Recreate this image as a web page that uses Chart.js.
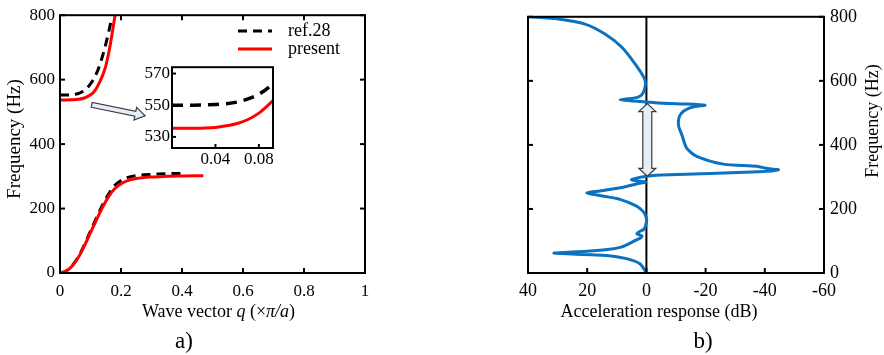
<!DOCTYPE html>
<html>
<head>
<meta charset="utf-8">
<script src="https://cdn.jsdelivr.net/npm/chart.js@4.4.0/dist/chart.umd.min.js"></script>
<style>
  body { margin: 0; background: #fff; width: 884px; height: 355px; overflow: hidden; position: relative; }
  canvas { position: absolute; }
</style>
</head>
<body>
<canvas id="dispersion" style="left:0;top:0;width:442px;height:355px"></canvas>
<canvas id="inset" style="left:115px;top:55px;width:165px;height:120px"></canvas>
<canvas id="response" style="left:442px;top:0;width:442px;height:355px"></canvas>
<script>
// ---- panel a) dispersion curves ----
const qRefLow = [0, 0.02, 0.04, 0.06, 0.08, 0.1, 0.12, 0.14, 0.16, 0.18, 0.2, 0.22, 0.25, 0.3, 0.35, 0.4];
const fRefLow = [0, 6, 23, 50, 87, 130, 172, 212, 246, 272, 287, 296, 302, 306, 308, 309];
const qRefUp = [0, 0.02, 0.04, 0.06, 0.08, 0.1, 0.11, 0.12, 0.13, 0.14, 0.15, 0.16, 0.17];
const fRefUp = [552, 552, 553, 557, 566, 587, 601, 620, 645, 675, 710, 750, 793];

const qPresLow = [0, 0.02, 0.04, 0.06, 0.08, 0.1, 0.12, 0.14, 0.16, 0.18, 0.2, 0.22, 0.25, 0.3, 0.35, 0.4, 0.47];
const fPresLow = [0, 6, 22, 48, 84, 125, 166, 205, 238, 262, 277, 286, 293, 298, 300, 301, 302];
const qPresUp = [0, 0.02, 0.04, 0.06, 0.08, 0.1, 0.11, 0.12, 0.13, 0.14, 0.15, 0.16, 0.17, 0.18, 0.184];
const fPresUp = [537, 537, 537.5, 539, 543, 553, 561, 574, 592, 614, 642, 684, 738, 796, 815];

// inset zoom (first 0.093 of q)
const qInset = [0, 0.02, 0.04, 0.05, 0.06, 0.07, 0.08, 0.09, 0.093];
const fInsetRef = [550, 550, 550.5, 551, 552, 554, 557, 562, 565];
const fInsetPres = [535.5, 535.5, 536, 537, 538.5, 541, 545, 551, 553];
const insetTicksX = [0.04, 0.08];
const insetTicksY = [530, 550, 570];

// ---- panel b) acceleration response ----
const accelFreq = [0, 5, 29, 45, 55, 62, 68, 74, 80, 86, 101, 109, 116, 122, 128, 137, 150, 165, 184, 196, 209, 230, 242, 250, 256, 266, 278, 284, 291, 297, 301, 303, 306, 316, 322, 326, 333, 340, 364, 390, 431, 455, 472, 490, 505, 515, 520, 524, 528, 531, 534, 537, 541, 546, 552, 565, 590, 610, 654, 705, 746, 777, 793, 800];
const accelDb = [0, 0.3, 2.2, 6.7, 13.4, 31.2, 20.2, 12.5, 8.9, 7, 3.9, 2.0, 1.5, 3.2, 2.5, 0.8, 0.2, -0.1, 0.5, 1.5, 3.3, 8.9, 15.7, 20.2, 15.7, 8.9, 3.3, 0.3, 5.0, 3.0, 0.5, -1, -5, -38, -44.6, -41, -37.3, -26, -17, -13.6, -12.0, -11, -10.8, -11.2, -12.5, -14.5, -16.5, -19.8, -12, -4, 0, 4.4, 8.9, 4.4, 2.2, 1.0, 0.3, 0.8, 3.9, 8.3, 14, 20.7, 29.8, 40];

const serif = 'Liberation Serif';
const pts = (xs, ys) => xs.map((x, i) => ({ x: x, y: ys[i] }));

// box around plot area + inward tick marks
const framePlugin = {
  id: 'frame',
  afterDatasetsDraw(chart, args, o) {
    const { ctx, chartArea: ca } = chart;
    ctx.save();
    ctx.strokeStyle = '#000';
    ctx.lineWidth = o.width || 2;
    ctx.strokeRect(ca.left, ca.top, ca.right - ca.left, ca.bottom - ca.top);
    const len = o.len || 5;
    (o.sides || []).forEach(side => {
      const sc = chart.scales[side === 'left' || side === 'right' ? 'y' : 'x'];
      sc.ticks.forEach(t => {
        const p = sc.getPixelForValue(t.value);
        ctx.beginPath();
        if (side === 'left') { ctx.moveTo(ca.left, p); ctx.lineTo(ca.left + len, p); }
        if (side === 'right') { ctx.moveTo(ca.right, p); ctx.lineTo(ca.right - len, p); }
        if (side === 'bottom') { ctx.moveTo(p, ca.bottom); ctx.lineTo(p, ca.bottom - len); }
        if (side === 'top') { ctx.moveTo(p, ca.top); ctx.lineTo(p, ca.top + len); }
        ctx.stroke();
      });
    });
    ctx.restore();
  }
};

// free text with mixed upright / italic parts
const textPlugin = {
  id: 'texts',
  afterDraw(chart, args, o) {
    const { ctx, chartArea: ca } = chart;
    (o.items || []).forEach(it => {
      const [x, y] = it.at(ca);
      ctx.save();
      ctx.translate(x, y);
      if (it.rot) ctx.rotate(it.rot);
      ctx.fillStyle = '#000';
      ctx.textBaseline = 'middle';
      const fontOf = p => (p.i ? 'italic ' : '') + it.size + 'px "' + serif + '"';
      let w = 0;
      it.parts.forEach(p => { ctx.font = fontOf(p); w += ctx.measureText(p.t).width; });
      let cx = -w / 2;
      it.parts.forEach(p => {
        ctx.font = fontOf(p);
        ctx.fillText(p.t, cx, 0);
        cx += ctx.measureText(p.t).width;
      });
      ctx.restore();
    });
  }
};

// hollow arrows, placed in data coordinates
const arrowPlugin = {
  id: 'arrows',
  afterDatasetsDraw(chart, args, o) {
    const { ctx } = chart;
    const sx = chart.scales.x, sy = chart.scales.y;
    (o.items || []).forEach(a => {
      const x1 = sx.getPixelForValue(a.from[0]), y1 = sy.getPixelForValue(a.from[1]);
      const x2 = sx.getPixelForValue(a.to[0]), y2 = sy.getPixelForValue(a.to[1]);
      const dx = x2 - x1, dy = y2 - y1, L = Math.hypot(dx, dy);
      const ux = dx / L, uy = dy / L, nx = -uy, ny = ux;
      const P = (s, n) => [x1 + ux * s + nx * n, y1 + uy * s + ny * n];
      const w = a.shaft / 2, hw = a.head / 2, hl = a.headLen;
      const poly = [];
      if (a.both) poly.push(P(0, 0), P(hl, hw), P(hl, w)); else poly.push(P(0, w));
      poly.push(P(L - hl, w), P(L - hl, hw), P(L, 0), P(L - hl, -hw), P(L - hl, -w));
      if (a.both) poly.push(P(hl, -w), P(hl, -hw)); else poly.push(P(0, -w));
      ctx.save();
      ctx.beginPath();
      poly.forEach((p, i) => i ? ctx.lineTo(p[0], p[1]) : ctx.moveTo(p[0], p[1]));
      ctx.closePath();
      ctx.fillStyle = '#e6edf6';
      ctx.fill();
      ctx.strokeStyle = '#3a3a3a';
      ctx.lineWidth = 1.2;
      ctx.stroke();
      ctx.restore();
    });
  }
};

// legend inside panel a
const legendPlugin = {
  id: 'inlegend',
  afterDraw(chart, args, o) {
    const { ctx } = chart;
    const seen = [];
    chart.data.datasets.forEach(d => { if (!seen.find(s => s.label === d.label)) seen.push(d); });
    seen.sort((a, b) => o.order.indexOf(a.label) - o.order.indexOf(b.label));
    seen.forEach((d, i) => {
      const y = o.y + i * o.gap;
      ctx.save();
      ctx.strokeStyle = d.borderColor;
      ctx.lineWidth = d.borderWidth;
      ctx.setLineDash(d.borderDash || []);
      ctx.beginPath();
      ctx.moveTo(o.x, y); ctx.lineTo(o.x + o.len, y);
      ctx.stroke();
      ctx.setLineDash([]);
      ctx.fillStyle = '#000';
      ctx.font = '18px "' + serif + '"';
      ctx.textBaseline = 'middle';
      ctx.fillText(d.label, o.x + o.len + 16, y);
      ctx.restore();
    });
  }
};

// zero line of panel b, under the curve
const zeroPlugin = {
  id: 'zero',
  beforeDatasetsDraw(chart) {
    const { ctx, chartArea: ca } = chart;
    const x = chart.scales.x.getPixelForValue(0);
    ctx.save();
    ctx.strokeStyle = '#000';
    ctx.lineWidth = 2;
    ctx.beginPath(); ctx.moveTo(x, ca.top); ctx.lineTo(x, ca.bottom); ctx.stroke();
    ctx.restore();
  }
};

const tickFont = size => ({ family: serif, size: size });
const lineSet = (label, data, color, dash, order) => ({
  label: label, data: data, borderColor: color, borderWidth: 3, borderDash: dash,
  showLine: true, pointRadius: 0, cubicInterpolationMode: 'monotone', order: order
});

new Chart(document.getElementById('dispersion'), {
  type: 'scatter',
  data: {
    datasets: [
      lineSet('present', pts(qPresLow, fPresLow), '#ff0000', [], 0),
      lineSet('present', pts(qPresUp, fPresUp), '#ff0000', [], 0),
      lineSet('ref.28', pts(qRefLow, fRefLow), '#000000', [9, 6], 1),
      lineSet('ref.28', pts(qRefUp, fRefUp), '#000000', [9, 6], 1)
    ]
  },
  plugins: [framePlugin, textPlugin, legendPlugin, arrowPlugin],
  options: {
    responsive: false,
    animation: false,
    events: [],
    layout: { padding: { top: 14, right: 77, left: 0, bottom: 0 } },
    scales: {
      x: {
        min: 0, max: 1,
        grid: { display: false, drawTicks: false }, border: { display: false },
        ticks: { stepSize: 0.2, color: '#000', font: tickFont(17), padding: 8, maxRotation: 0,
                 callback: v => String(Math.round(v * 10) / 10) },
        afterFit: s => { s.height = 82; }
      },
      y: {
        min: 0, max: 800,
        grid: { display: false, drawTicks: false }, border: { display: false },
        ticks: { stepSize: 200, color: '#000', font: tickFont(17), padding: 5 },
        afterFit: s => { s.width = 60; }
      }
    },
    plugins: {
      legend: { display: false },
      tooltip: { enabled: false },
      frame: { sides: ['left', 'right', 'bottom', 'top'], len: 5 },
      inlegend: { x: 238, y: 31, gap: 18, len: 34, order: ['ref.28', 'present'] },
      arrows: { items: [{ from: [0.104, 522], to: [0.279, 488], shaft: 5, head: 13, headLen: 10, both: false }] },
      texts: {
        items: [
          { parts: [{ t: 'Frequency (Hz)' }], size: 19, rot: -Math.PI / 2, at: ca => [ca.left - 45, 139] },
          { parts: [{ t: 'Wave vector ' }, { t: 'q', i: true }, { t: ' (×' }, { t: 'π/a', i: true }, { t: ')' }], size: 18,
            at: ca => [(ca.left + ca.right) / 2 + 6, 312] },
          { parts: [{ t: 'a)' }], size: 23, at: ca => [184, 342] }
        ]
      }
    }
  }
});

// inset zoom
const insetBg = {
  id: 'insetBg',
  beforeDatasetsDraw(chart) {
    const { ctx, chartArea: ca } = chart;
    ctx.save(); ctx.fillStyle = '#fff';
    ctx.fillRect(ca.left, ca.top, ca.right - ca.left, ca.bottom - ca.top);
    ctx.restore();
  }
};
new Chart(document.getElementById('inset'), {
  type: 'scatter',
  data: {
    datasets: [
      Object.assign(lineSet('present', pts(qInset, fInsetPres), '#ff0000', [], 0), { borderWidth: 3 }),
      Object.assign(lineSet('ref.28', pts(qInset, fInsetRef), '#000000', [11, 7], 1), { borderWidth: 3.5 })
    ]
  },
  plugins: [insetBg, framePlugin],
  options: {
    responsive: false,
    animation: false,
    events: [],
    layout: { padding: { top: 9, right: 7, left: 0, bottom: 0 } },
    scales: {
      x: {
        min: 0, max: 0.093,
        grid: { display: false, drawTicks: false }, border: { display: false },
        afterBuildTicks: s => { s.ticks = insetTicksX.map(v => ({ value: v })); },
        ticks: { color: '#000', font: tickFont(17), padding: 1, maxRotation: 0, callback: v => String(v) },
        afterFit: s => { s.height = 27; }
      },
      y: {
        min: 523, max: 574,
        grid: { display: false, drawTicks: false }, border: { display: false },
        afterBuildTicks: s => { s.ticks = insetTicksY.map(v => ({ value: v })); },
        ticks: { color: '#000', font: tickFont(17), padding: 2, callback: v => String(v) },
        afterFit: s => { s.width = 57; }
      }
    },
    plugins: {
      legend: { display: false },
      tooltip: { enabled: false },
      frame: { sides: ['left', 'bottom'], len: 4 }
    }
  }
});

// panel b)
new Chart(document.getElementById('response'), {
  type: 'scatter',
  data: {
    datasets: [{
      label: 'response', data: pts(accelDb, accelFreq), borderColor: '#0a72c0', borderWidth: 3,
      showLine: true, pointRadius: 0, tension: 0.25
    }]
  },
  plugins: [zeroPlugin, framePlugin, textPlugin, arrowPlugin],
  options: {
    responsive: false,
    animation: false,
    events: [],
    layout: { padding: { top: 14, right: 0, left: 86, bottom: 0 } },
    scales: {
      x: {
        min: -60, max: 40, reverse: true,
        grid: { display: false, drawTicks: false }, border: { display: false },
        ticks: { stepSize: 20, color: '#000', font: tickFont(18), padding: 7, maxRotation: 0 },
        afterFit: s => { s.height = 82; }
      },
      y: {
        position: 'right', min: 0, max: 800,
        grid: { display: false, drawTicks: false }, border: { display: false },
        ticks: { stepSize: 200, color: '#000', font: tickFont(18), padding: 6 },
        afterFit: s => { s.width = 60; }
      }
    },
    plugins: {
      legend: { display: false },
      tooltip: { enabled: false },
      frame: { sides: ['left', 'right', 'bottom'], len: 5 },
      arrows: { items: [{ from: [-0.3, 302], to: [-0.3, 529], shaft: 9, head: 17, headLen: 8, both: true }] },
      texts: {
        items: [
          { parts: [{ t: 'Acceleration response (dB)' }], size: 18, at: ca => [217, 312] },
          { parts: [{ t: 'Frequency (Hz)' }], size: 18, rot: -Math.PI / 2, at: ca => [431, 121] },
          { parts: [{ t: 'b)' }], size: 23, at: ca => [261, 342] }
        ]
      }
    }
  }
});
</script>
</body>
</html>
